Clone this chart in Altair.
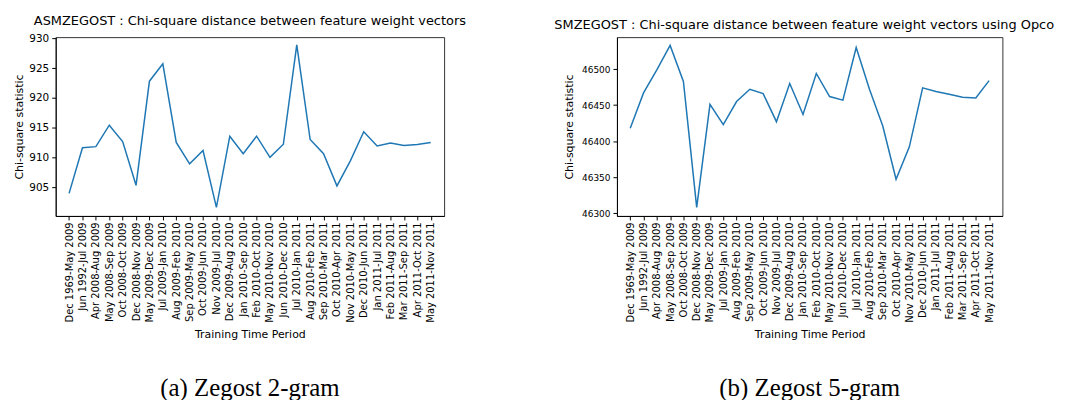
import altair as alt
import pandas as pd

periods = [
    "Dec 1969-May 2009", "Jun 1992-Jul 2009", "Apr 2008-Aug 2009", "May 2008-Sep 2009",
    "Oct 2008-Oct 2009", "Dec 2008-Nov 2009", "May 2009-Dec 2009", "Jul 2009-Jan 2010",
    "Aug 2009-Feb 2010", "Sep 2009-May 2010", "Oct 2009-Jun 2010", "Nov 2009-Jul 2010",
    "Dec 2009-Aug 2010", "Jan 2010-Sep 2010", "Feb 2010-Oct 2010", "May 2010-Nov 2010",
    "Jun 2010-Dec 2010", "Jul 2010-Jan 2011", "Aug 2010-Feb 2011", "Sep 2010-Mar 2011",
    "Oct 2010-Apr 2011", "Nov 2010-May 2011", "Dec 2010-Jun 2011", "Jan 2011-Jul 2011",
    "Feb 2011-Aug 2011", "Mar 2011-Sep 2011", "Apr 2011-Oct 2011", "May 2011-Nov 2011",
]

gram2_values = [
    903.95, 911.6, 911.8, 915.4, 912.65, 905.3, 922.8, 925.7, 912.5, 908.9,
    911.15, 901.6, 913.55, 910.6, 913.55, 910.0, 912.2, 928.9, 913.0, 910.6,
    905.2, 909.4, 914.3, 911.9, 912.4, 912.0, 912.15, 912.5,
]

gram5_values = [
    46418, 46467, 46499, 46533, 46483, 46308, 46451, 46423, 46455, 46472,
    46466, 46427, 46480, 46437, 46494, 46462, 46457, 46530, 46472, 46421,
    46347, 46392, 46474, 46469, 46465, 46461, 46460, 46484,
]

gram2_ticks = [905, 910, 915, 920, 925, 930]
gram5_ticks = [46300, 46350, 46400, 46450, 46500]

title_a = "ASMZEGOST : Chi-square distance between feature weight vectors"
title_b = "SMZEGOST : Chi-square distance between feature weight vectors using Opco"
caption_a = "(a) Zegost 2-gram"
caption_b = "(b) Zegost 5-gram"

H = 180


def panel(values, domain, ticks, title, caption, width, ylabel_size, ytitle_pad):
    df = pd.DataFrame({"period": periods, "value": values})
    line = alt.Chart(df).mark_line(color="#1f77b4", strokeWidth=1.5).encode(
        x=alt.X(
            "period:N",
            sort=periods,
            scale=alt.Scale(type="point", padding=1.42),
            axis=alt.Axis(title="Training Time Period", labelAngle=270,
                          labelPadding=2, titlePadding=6),
        ),
        y=alt.Y(
            "value:Q",
            scale=alt.Scale(domain=domain, nice=False, zero=False),
            axis=alt.Axis(values=ticks, title="Chi-square statistic", format="d",
                          labelPadding=3, titlePadding=ytitle_pad,
                          labelFontSize=ylabel_size),
        ),
    )
    cap = alt.Chart(pd.DataFrame({"c": [caption]})).mark_text(
        font="Liberation Serif", fontSize=25, baseline="alphabetic", color="black"
    ).encode(text="c:N", x=alt.value(width / 2), y=alt.value(H + 181))
    return alt.layer(line, cap).properties(width=width, height=H, title=title)


left = panel(
    gram2_values, [900.15, 930.2], gram2_ticks,
    alt.TitleParams(title_a, anchor="middle", frame="group", offset=5),
    caption_a, 391, 10.5, 4,
)
right = panel(
    gram5_values, [46296, 46544.5], gram5_ticks,
    alt.TitleParams(title_b, anchor="start", frame="group", dx=-63, offset=5),
    caption_b, 388, 9, 7,
)

chart = alt.hconcat(left, right, spacing=174, bounds="flush").configure_axis(
    labelFont="DejaVu Sans", titleFont="DejaVu Sans",
    labelFontSize=10, titleFontSize=11, titleFontWeight="normal",
    labelColor="black", titleColor="black",
    tickColor="black", domainColor="black", grid=False, tickSize=4,
).configure_title(
    font="DejaVu Sans", fontSize=13, fontWeight="normal", color="black",
).configure_view(stroke="#333", strokeWidth=1)

chart.save("out.html", embed_options={"renderer": "svg", "actions": False})
